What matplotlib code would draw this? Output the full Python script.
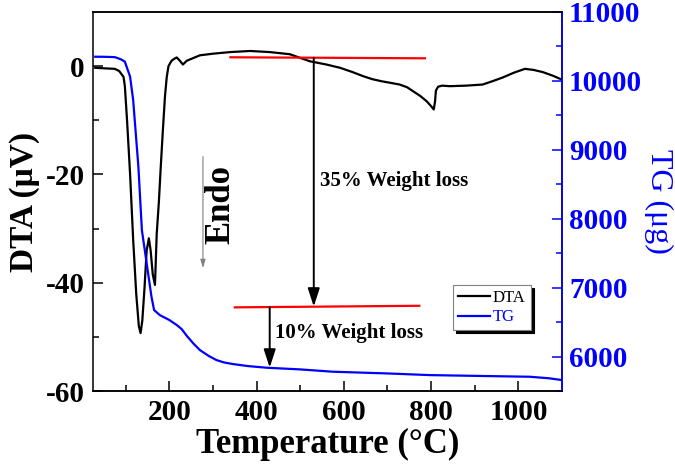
# DTA / TG curves with weight-loss annotations
import matplotlib
matplotlib.use("Agg")
import matplotlib.pyplot as plt

plt.rcParams['font.family'] = ['Liberation Serif', 'DejaVu Serif']
plt.rcParams['font.weight'] = 'bold'
plt.rcParams['axes.unicode_minus'] = False

# DTA curve (temperature in C, signal in uV)
dta_temp = [30, 50, 75, 85, 95, 98, 103, 110, 117, 124, 130, 134, 138, 143, 148,
            153, 157, 162, 167, 171, 176, 180, 185, 190, 194, 198, 205, 212, 217,
            224, 231, 240, 255, 270, 300, 340, 385, 430, 476, 522, 560, 591, 620,
            644, 665, 687, 708, 728, 745, 758, 775, 790, 800, 806, 809, 811, 816,
            825, 843, 880, 918, 940, 964, 990, 1015, 1035, 1056, 1080, 1100]
dta_val = [-0.3, -0.4, -0.5, -0.9, -2.0, -3.7, -10, -20, -32, -42, -48, -49.3, -47,
           -41, -34, -31.8, -34, -38.5, -40.4, -31, -25, -19, -12, -5.5, -2.0, 0.0,
           1.0, 1.4, 1.6, 1.0, 0.3, 1.0, 1.5, 2.0, 2.3, 2.6, 2.8, 2.6, 2.2, 0.9,
           0.3, -0.3, -1.1, -1.85, -2.4, -2.8, -3.1, -3.4, -3.9, -4.6, -5.5, -6.5,
           -7.4, -8.0, -6.5, -4.5, -3.8, -3.6, -3.7, -3.6, -3.4, -2.8, -2.1, -1.2,
           -0.5, -0.7, -1.1, -1.8, -2.5]

# TG curve (temperature in C, mass in ug)
tg_temp = [30, 50, 75, 82, 90, 98, 110, 117, 129, 137, 148, 159, 165, 178, 200,
           217, 228, 240, 255, 270, 290, 308, 325, 346, 380, 423, 499, 575, 700,
           797, 900, 1026, 1070, 1100]
tg_val = [10351, 10350, 10345, 10330, 10310, 10279, 10061, 9723, 8755, 7836, 7353,
          6868, 6675, 6602, 6530, 6457, 6400, 6300, 6190, 6094, 6010, 5949, 5915,
          5891, 5862, 5838, 5814, 5780, 5755, 5731, 5720, 5707, 5685, 5659]

# weight-loss annotation levels (TG axis)
upper_line_t = [340, 786]
upper_line_tg = [10343, 10328]
lower_line_t = [350, 773]
lower_line_tg = [6714, 6737]

fig = plt.figure(figsize=(6.75, 4.65), dpi=100)
ax = fig.add_axes([0.1378, 0.1591, 0.6948, 0.8151])
ax2 = ax.twinx()

l1, = ax.plot(dta_temp, dta_val, color='black', lw=1.6, label='DTA')
l2, = ax2.plot(tg_temp, tg_val, color='blue', lw=1.6, label='TG')

ax2.plot(upper_line_t, upper_line_tg, color='red', lw=1.6)
ax2.plot(lower_line_t, lower_line_tg, color='red', lw=1.6)

arrow_style = '-|>,head_length=0.55,head_width=0.18'
ax2.annotate('', xy=(531, 6726), xytext=(531, 10335),
             arrowprops=dict(arrowstyle=arrow_style, lw=1.4, color='black',
                             mutation_scale=20, shrinkA=0, shrinkB=0))
ax2.annotate('', xy=(430, 5840), xytext=(430, 6720),
             arrowprops=dict(arrowstyle=arrow_style, lw=1.4, color='black',
                             mutation_scale=20, shrinkA=0, shrinkB=0))

# Endo marker
ax.annotate('', xy=(277, -37.3), xytext=(277, -16.7),
            arrowprops=dict(arrowstyle='-|>,head_length=0.5,head_width=0.15',
                            lw=0.8, color='gray', mutation_scale=10,
                            shrinkA=0, shrinkB=0))
ax.text(318, -25.6, 'Endo', rotation=90, fontsize=25, ha='center', va='center')

ax.text(545, -21.3, '35% Weight loss', fontsize=15, ha='left', va='center')
ax.text(442, -49.3, '10% Weight loss', fontsize=15, ha='left', va='center')

ax.set_xlim(25, 1100)
ax.set_ylim(-60, 10)
ax2.set_ylim(5500, 11000)

ax.set_xticks([200, 400, 600, 800, 1000])
ax.set_xticks(range(100, 1100, 100), minor=True)
ax.set_yticks([-60, -40, -20, 0])
ax.set_yticks([-50, -30, -10], minor=True)
ax2.set_yticks(range(6000, 11001, 1000))
ax2.set_yticks(range(5500, 11000, 1000), minor=True)

ax.tick_params(axis='both', which='major', direction='in', length=7, width=1.1,
               labelsize=21, pad=6)
ax.tick_params(axis='both', which='minor', direction='in', length=4, width=1.1)
ax.tick_params(axis='x', top=False, which='both')
ax2.tick_params(axis='y', which='major', direction='in', length=7, width=1.1,
                labelsize=21, pad=5, colors='blue')
ax2.tick_params(axis='y', which='minor', direction='in', length=4, width=1.1,
                colors='blue')

for s in ax.spines.values():
    s.set_linewidth(1.1)
for s in ax2.spines.values():
    s.set_linewidth(1.1)
ax2.spines['right'].set_color('blue')
ax2.spines['left'].set_visible(False)

ax.set_xlabel('Temperature (°C)', fontsize=25, fontweight='bold', labelpad=1)
ax.set_ylabel('DTA (μV)', fontsize=24, fontweight='bold', labelpad=4)
ax2.set_ylabel('TG (μg)', fontsize=23, color='blue', fontweight='normal',
               rotation=270, labelpad=22)

leg = ax2.legend([l1, l2], ['DTA', 'TG'], loc='upper left',
                 bbox_to_anchor=(453 / 675, 1 - 285 / 465),
                 bbox_transform=fig.transFigure, borderaxespad=0,
                 prop={'size': 12, 'weight': 'normal'}, fancybox=False,
                 shadow={'color': 'black', 'alpha': 1}, handlelength=1.9,
                 handletextpad=0.2, borderpad=0.3, labelspacing=0.2,
                 framealpha=1, edgecolor='gray')
leg.get_frame().set_linewidth(0.8)
leg.get_texts()[1].set_color('blue')

fig.savefig('out.png', dpi=100)
